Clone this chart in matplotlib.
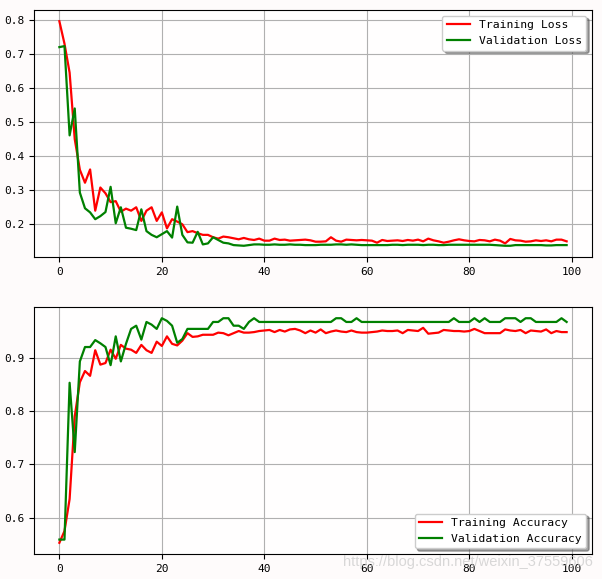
import matplotlib
matplotlib.use('Agg')
import matplotlib.pyplot as plt
import numpy as np

epochs = np.arange(100)

train_loss = [0.796, 0.73, 0.645, 0.45, 0.36, 0.322, 0.361, 0.24, 0.308, 0.291,
              0.265, 0.268, 0.237, 0.246, 0.24, 0.25, 0.21, 0.24, 0.25, 0.21,
              0.235, 0.188, 0.215, 0.208, 0.2, 0.177, 0.18, 0.174, 0.169, 0.169,
              0.162, 0.158, 0.164, 0.162, 0.159, 0.156, 0.16, 0.156, 0.154, 0.158,
              0.152, 0.152, 0.158, 0.154, 0.155, 0.152, 0.153, 0.154, 0.155, 0.153,
              0.149, 0.149, 0.15, 0.162, 0.152, 0.149, 0.155, 0.154, 0.153, 0.154,
              0.153, 0.152, 0.146, 0.154, 0.151, 0.152, 0.153, 0.151, 0.154, 0.152,
              0.155, 0.15, 0.158, 0.153, 0.15, 0.146, 0.149, 0.153, 0.156, 0.153,
              0.151, 0.15, 0.154, 0.153, 0.15, 0.155, 0.152, 0.144, 0.157, 0.153,
              0.152, 0.149, 0.15, 0.153, 0.151, 0.153, 0.15, 0.155, 0.155, 0.15]

val_loss = [0.72, 0.723, 0.461, 0.54, 0.293, 0.247, 0.235, 0.215, 0.224, 0.236,
            0.31, 0.203, 0.25, 0.19, 0.187, 0.183, 0.244, 0.18, 0.169, 0.162,
            0.171, 0.18, 0.161, 0.252, 0.169, 0.147, 0.146, 0.178, 0.141, 0.144,
            0.162, 0.154, 0.146, 0.144, 0.139, 0.138, 0.137, 0.139, 0.141, 0.141,
            0.140, 0.140, 0.141, 0.140, 0.140, 0.141, 0.140, 0.140, 0.139, 0.139,
            0.139, 0.140, 0.140, 0.140, 0.141, 0.141, 0.140, 0.141, 0.140, 0.139,
            0.139, 0.139, 0.139, 0.139, 0.139, 0.140, 0.140, 0.139, 0.140, 0.140,
            0.140, 0.139, 0.140, 0.140, 0.139, 0.139, 0.140, 0.140, 0.140, 0.140,
            0.140, 0.140, 0.140, 0.140, 0.140, 0.139, 0.138, 0.137, 0.137, 0.139,
            0.139, 0.139, 0.139, 0.139, 0.139, 0.138, 0.138, 0.139, 0.139, 0.139]

train_acc = [0.553, 0.575, 0.635, 0.79, 0.854, 0.875, 0.866, 0.914, 0.887, 0.89,
             0.915, 0.898, 0.924, 0.917, 0.915, 0.909, 0.924, 0.914, 0.909, 0.93,
             0.922, 0.94, 0.926, 0.923, 0.932, 0.946, 0.939, 0.94, 0.943, 0.943,
             0.943, 0.947, 0.946, 0.942, 0.946, 0.95, 0.947, 0.947, 0.948, 0.95,
             0.951, 0.952, 0.948, 0.952, 0.949, 0.953, 0.954, 0.951, 0.946, 0.951,
             0.947, 0.953, 0.946, 0.949, 0.951, 0.949, 0.948, 0.951, 0.948, 0.947,
             0.947, 0.948, 0.949, 0.951, 0.95, 0.95, 0.951, 0.946, 0.952, 0.951,
             0.95, 0.956, 0.945, 0.946, 0.947, 0.952, 0.951, 0.95, 0.95, 0.949,
             0.95, 0.954, 0.95, 0.946, 0.946, 0.946, 0.946, 0.953, 0.951, 0.95,
             0.952, 0.946, 0.951, 0.95, 0.949, 0.953, 0.946, 0.95, 0.948, 0.948]

val_acc = [0.559, 0.559, 0.853, 0.723, 0.893, 0.92, 0.92, 0.933, 0.927, 0.92,
           0.886, 0.94, 0.893, 0.926, 0.954, 0.96, 0.934, 0.967, 0.962, 0.954,
           0.974, 0.969, 0.96, 0.928, 0.935, 0.954, 0.954, 0.954, 0.954, 0.954,
           0.967, 0.967, 0.974, 0.974, 0.96, 0.96, 0.954, 0.967, 0.974, 0.967,
           0.967, 0.967, 0.967, 0.967, 0.967, 0.967, 0.967, 0.967, 0.967, 0.967,
           0.967, 0.967, 0.967, 0.967, 0.974, 0.974, 0.967, 0.967, 0.974, 0.967,
           0.967, 0.967, 0.967, 0.967, 0.967, 0.967, 0.967, 0.967, 0.967, 0.967,
           0.967, 0.967, 0.967, 0.967, 0.967, 0.967, 0.967, 0.974, 0.967, 0.967,
           0.967, 0.974, 0.967, 0.974, 0.967, 0.967, 0.967, 0.974, 0.974, 0.974,
           0.967, 0.974, 0.974, 0.967, 0.967, 0.967, 0.967, 0.967, 0.974, 0.967]

plt.rcParams['font.family'] = 'DejaVu Sans Mono'

fig = plt.figure(figsize=(6.02, 5.79), dpi=100, facecolor='#fefbfb')
W, H = 602, 579
ax1 = fig.add_axes([34 / W, 1 - 257 / H, 558 / W, 247 / H], facecolor='#fffefe')
ax2 = fig.add_axes([34 / W, 1 - 554 / H, 558 / W, 247 / H], facecolor='#fffefe')

ax1.plot(epochs, train_loss, color='r', lw=1.6, label='Training Loss')
ax1.plot(epochs, val_loss, color='g', lw=1.6, label='Validation Loss')
ax1.legend(loc='upper right', shadow=True, fontsize=8.2)

ax2.plot(epochs, train_acc, color='r', lw=1.6, label='Training Accuracy')
ax2.plot(epochs, val_acc, color='g', lw=1.6, label='Validation Accuracy')
ax2.legend(loc='lower right', shadow=True, fontsize=8.2)

for ax in (ax1, ax2):
    ax.grid(True)
    ax.tick_params(labelsize=8)

# csdn watermark, bottom right
fig.text(0.985, 0.03, 'https://blog.csdn.net/weixin_37559606', ha='right', va='center',
         fontsize=10.5, family='Liberation Sans', color='#c8c8c8', alpha=0.7)

plt.savefig('out.png', dpi=100, facecolor=fig.get_facecolor())
